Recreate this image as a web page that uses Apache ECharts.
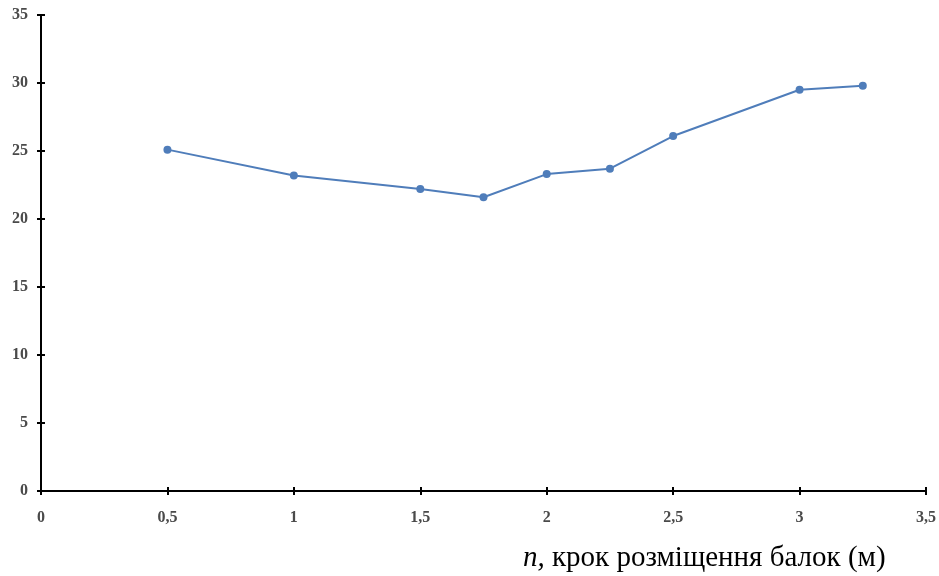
<!DOCTYPE html>
<html><head><meta charset="utf-8">
<script src="https://cdn.jsdelivr.net/npm/echarts@6/dist/echarts.min.js"></script>
<style>html,body{margin:0;padding:0;background:#fff}#c{width:939px;height:576px}</style>
</head><body><div id="c"></div>
<script>
const xValues = [0.5, 1, 1.5, 1.75, 2, 2.25, 2.5, 3, 3.25];
const yValues = [25.1, 23.2, 22.2, 21.6, 23.3, 23.7, 26.1, 29.5, 29.8];
const xTicks = { min: 0, max: 3.5, interval: 0.5 };
const yTicks = { min: 0, max: 35, interval: 5 };
const axisTitleItalic = 'n,';
const axisTitleRest = ' крок розміщення балок (м)';

const fmt = v => String(v).replace('.', ',');
const labelStyle = { fontFamily: 'Liberation Serif', fontWeight: 'bold', fontSize: 16, color: '#4a4a4a' };
const chart = echarts.init(document.getElementById('c'));
chart.setOption({
  animation: false,
  backgroundColor: '#fff',
  title: {
    left: 518, top: 539,
    text: '{i|' + axisTitleItalic + '}{r|' + axisTitleRest + '}',
    textStyle: {
      fontWeight: 'normal',
      rich: {
        i: { fontFamily: 'Liberation Serif', fontStyle: 'italic', fontWeight: 'normal', fontSize: 29, color: '#000' },
        r: { fontFamily: 'Liberation Serif', fontWeight: 'normal', fontSize: 29, color: '#000' }
      }
    }
  },
  grid: { left: 41, right: 13, top: 15, bottom: 85, containLabel: false },
  xAxis: [{
    type: 'value', min: xTicks.min, max: xTicks.max, interval: xTicks.interval,
    axisLine: { show: true, onZero: false, lineStyle: { color: '#000', width: 2 } },
    axisTick: { show: true, length: 4, lineStyle: { color: '#000', width: 2 } },
    axisLabel: Object.assign({ margin: 19, formatter: fmt }, labelStyle),
    splitLine: { show: false }
  }, {
    type: 'value', position: 'bottom', min: xTicks.min, max: xTicks.max, interval: xTicks.interval,
    axisLine: { show: false },
    axisTick: { show: true, inside: true, length: 4, lineStyle: { color: '#000', width: 2 } },
    axisLabel: { show: false }, splitLine: { show: false }
  }],
  yAxis: [{
    type: 'value', min: yTicks.min, max: yTicks.max, interval: yTicks.interval,
    axisLine: { show: true, onZero: false, lineStyle: { color: '#000', width: 2 } },
    axisTick: { show: true, length: 4, lineStyle: { color: '#000', width: 2 } },
    axisLabel: Object.assign({ margin: 13, formatter: fmt }, labelStyle),
    splitLine: { show: false }
  }, {
    type: 'value', position: 'left', min: yTicks.min, max: yTicks.max, interval: yTicks.interval,
    axisLine: { show: false },
    axisTick: { show: true, inside: true, length: 4, lineStyle: { color: '#000', width: 2 } },
    axisLabel: { show: false }, splitLine: { show: false }
  }],
  series: [{
    type: 'line',
    xAxisIndex: 0, yAxisIndex: 0,
    data: xValues.map((x, i) => [x, yValues[i]]),
    symbol: 'circle', symbolSize: 8,
    lineStyle: { color: '#4F7DBA', width: 2 },
    itemStyle: { color: '#4F7DBA' }
  }]
});
</script></body></html>
